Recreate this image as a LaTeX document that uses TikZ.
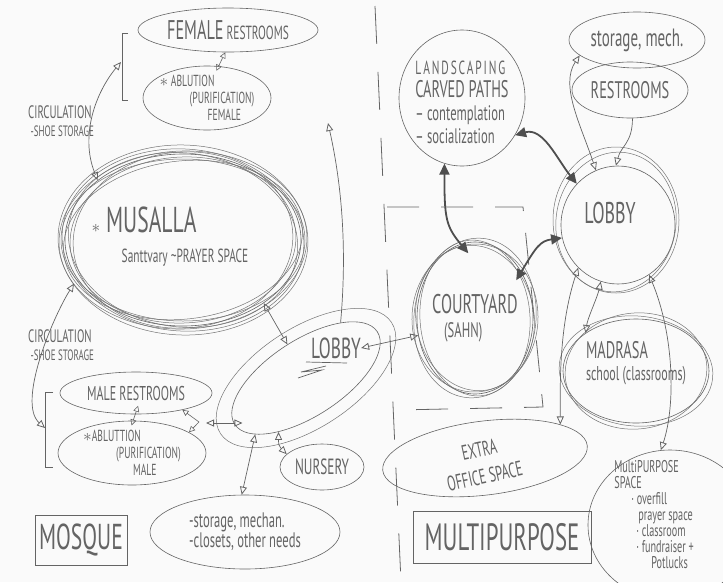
\documentclass[tikz,border=0pt]{standalone}
\usepackage{fontspec}
\newfontfamily\hand{PT Sans}[FakeStretch=0.6]
\usetikzlibrary{shapes.geometric,arrows.meta}

\definecolor{ink}{RGB}{100,100,100}
\definecolor{inkdark}{RGB}{78,78,78}
\definecolor{paper}{RGB}{250,250,250}

\tikzset{
  fs/.style={font=\hand\fontsize{#1}{#1}\selectfont, text=ink, inner sep=0pt},
  room/.style={draw=ink, ellipse, line width=0.6pt, inner sep=0pt},
  ring/.style={draw=ink!90, line width=0.5pt},
  box/.style={draw=ink, line width=0.8pt, inner sep=0pt},
  hd/.tip={Triangle[open, length=8pt, width=7pt, line width=0.8pt]},
  hdsmall/.tip={Triangle[open, length=6pt, width=6pt, line width=0.6pt]},
  hdbig/.tip={Triangle[length=11pt, width=10pt]},
  link/.style={draw=ink, line width=0.7pt, hd-hd},
  onelink/.style={draw=ink, line width=0.7pt, -hd},
  minilink/.style={draw=ink, line width=0.6pt, hdsmall-hdsmall},
  heavy/.style={draw=inkdark, line width=1.8pt, hdbig-hdbig},
}

\begin{document}
\begin{tikzpicture}[x=1pt,y=-1pt]
  \clip (0,0) rectangle (723,582);
  \fill[paper] (0,0) rectangle (723,582);
  % split between the two buildings
  \draw[ink, line width=0.8pt, dash pattern=on 38pt off 28pt] (375,6) -- (401,582);
  \draw[ink, line width=0.8pt, dash pattern=on 32pt off 22pt] (387,207) -- (523,207) -- (543,407) -- (397,410);

  %% mosque
  \node[room, minimum width=180, minimum height=44,
        label={[fs=19]center:{{\fontsize{27}{27}\selectfont FEMALE} RESTROOMS}}] (fres) at (228,30) {};
  \node[room, minimum width=128, minimum height=64,
        label={[font=\hand\fontsize{16}{17}\selectfont, text=ink, inner sep=0pt, align=left]center:{$\ast$ ABLUTION\\\hspace*{30pt}(PURIFICATION)\\\hspace*{48pt}FEMALE}}] (fabl) at (207,98) {};
  \draw[ink, line width=0.7pt] (128,33) -- (122,33) -- (122,100) -- (128,100);
  \coordinate (fbrk) at (121,62);
  \node[font=\hand\fontsize{18}{18}\selectfont, text=ink, inner sep=0pt, align=left, anchor=west] (circa) at (28,121)
    {CIRCULATION\\{\fontsize{15}{18}\selectfont\ -SHOE STORAGE}};

  \node[room, minimum width=236, minimum height=172] (musalla) at (183,240) {};
  \foreach \a/\dw/\dh in {-4/3/5, 3/-5/-3, 7/2/-7, -2/7/9, 5/-8/2, 0/4/-5, -7/-3/1, 2/6/3}
    \draw[ring, rotate around={\a:(musalla.center)}] (musalla.center) ellipse [x radius=118+\dw, y radius=86+\dh];
  \node[fs=36, align=left] (musallatxt) at (170,237)
    {{\fontsize{18}{18}\selectfont$\ast$} MUSALLA\\[-6pt]\hspace*{30pt}{\fontsize{19}{19}\selectfont Santtvary \textasciitilde PRAYER SPACE}};

  \node[room, minimum width=170, minimum height=76, rotate=33] (llobby) at (306,378) {};
  \draw[ring, rotate around={33:(llobby.center)}] (llobby.center) ellipse [x radius=102, y radius=50];
  \node[fs=29] (llobbytxt) at (336,348) {LOBBY};
  \draw[ink, line width=0.7pt] (306,362) -- (347,363);
  \draw[ink, line width=0.7pt] (298,378) -- (322,370) -- (301,372) -- (326,366);

  \node[room, minimum width=152, minimum height=42, label={[fs=20]center:MALE RESTROOMS}] (mres) at (136,393) {};
  \node[room, minimum width=148, minimum height=64,
        label={[font=\hand\fontsize{16}{17}\selectfont, text=ink, inner sep=0pt, align=left]center:{$\ast$ABLUTTION\\\hspace*{33pt}(PURIFICATION)\\\hspace*{50pt}MALE}}] (mabl) at (132,453) {};
  \draw[ink, line width=0.7pt] (53,392) -- (45,392) -- (45,467) -- (53,467);
  \coordinate (mbrk) at (45,428);
  \node[font=\hand\fontsize{18}{18}\selectfont, text=ink, inner sep=0pt, align=left, anchor=west] (circb) at (28,345)
    {CIRCULATION\\{\fontsize{15}{18}\selectfont\ -SHOE STORAGE}};
  \coordinate (mjoin) at (199,422);
  \coordinate (mjoin2) at (206,423);
  \node[room, minimum width=84, minimum height=46, label={[fs=22]center:NURSERY}] (nursery) at (322,467) {};
  \node[room, minimum width=190, minimum height=74,
        label={[font=\hand\fontsize{21}{18}\selectfont, text=ink, inner sep=0pt, align=left]center:{-storage, mechan.\\-closets, other needs}}] (lstor) at (245,532) {};
  \node[box, minimum width=92, minimum height=50, fs=36] (mosque) at (81,540) {MOSQUE};

  %% multipurpose
  \node[room, minimum width=126, minimum height=136,
        label={[font=\hand\fontsize{21}{23}\selectfont, text=ink, inner sep=0pt, align=left, yshift=-4pt]center:{{\addfontfeature{LetterSpace=10}\fontsize{19}{23}\selectfont LANDSCAPING}\\{\fontsize{24}{23}\selectfont CARVED PATHS}\\\textendash\ contemplation\\\textendash\ socialization}}] (land) at (462,98) {};
  \node[room, minimum width=136, minimum height=56, label={[fs=25]center:{storage, mech.}}] (smech) at (637,40) {};
  \node[room, minimum width=116, minimum height=56, label={[fs=24]center:RESTROOMS}] (rrest) at (630,90) {};
  \node[room, minimum width=114, minimum height=118, label={[fs=30, xshift=-8pt, yshift=12pt]center:LOBBY}] (rlobby) at (618,225) {};
  \draw[ring] (616,220) ellipse [x radius=63, y radius=73];
  \draw[ring, rotate around={-8:(616,222)}] (616,222) ellipse [x radius=60, y radius=70];

  \node[room, minimum width=116, minimum height=152,
        label={[font=\hand\fontsize{27}{24}\selectfont, text=ink, inner sep=0pt, align=left]center:{COURTYARD\\\hspace*{12pt}{\fontsize{21}{21}\selectfont(SAHN)}}}] (court) at (475,318) {};
  \foreach \a/\dw/\dh in {-6/3/4, 4/-3/2, 9/1/-3, -2/5/-2}
    \draw[ring, rotate around={\a:(court.center)}] (court.center) ellipse [x radius=58+\dw, y radius=76+\dh];

  \node[room, minimum width=146, minimum height=104,
        label={[font=\hand\fontsize{24}{22}\selectfont, text=ink, inner sep=0pt, align=left, yshift=8pt]center:{MADRASA\\{\fontsize{20}{20}\selectfont school (classrooms)}}}] (madrasa) at (636,371) {};
  \foreach \a/\dw/\dh in {-5/4/3, 6/-2/6}
    \draw[ring, rotate around={\a:(madrasa.center)}] (madrasa.center) ellipse [x radius=73+\dw, y radius=52+\dh];

  \node[room, minimum width=206, minimum height=74, rotate=7] (office) at (485,458) {};
  \node[font=\hand\fontsize{21}{27}\selectfont, text=ink, inner sep=0pt, rotate=12, align=center] (officetxt) at (482,463) {EXTRA\\OFFICE SPACE};
  \node[box, minimum width=178, minimum height=52, fs=38] (mpbox) at (502,537) {MULTIPURPOSE};
  \node[room, minimum width=164, minimum height=150,
        label={[font=\hand\fontsize{17}{16}\selectfont, text=ink, inner sep=0pt, align=left, xshift=-16pt, yshift=10pt]center:{MultiPURPOSE\\SPACE\\\hspace*{17pt}· overfill\\\hspace*{24pt}prayer space\\\hspace*{22pt}· classroom\\\hspace*{22pt}· fundraiser +\\\hspace*{37pt}Potlucks}}] (mpspace) at (670,525) {};

  % connections, mosque
  \draw[minilink, shorten >=-5pt] (fres.-97) -- (fabl.70);
  \draw[link] (musalla.145) .. controls +(-18,-45) and +(-25,30) .. (fbrk);
  \draw[link, shorten >=6pt] (mbrk) .. controls +(-28,-25) and +(-25,40) .. (musalla.200);
  \draw[link] (musalla.-38) -- (llobby.86);
  \coordinate (lobbyup) at (328,123);
  \draw[onelink] (llobby.25) .. controls +(8,-90) and +(10,45) .. (lobbyup);
  \draw[minilink, shorten <=-9pt, shorten >=-5pt] (mres.-92) -- (mabl.88);
  \draw[minilink] (mres.-20) -- (mjoin) -- (mabl.20);
  \draw[link, shorten >=-8pt] (mjoin2) -- (mjoin2 -| llobby.180);
  \draw[link] (nursery.160) .. controls +(-8,-8) and +(0,12) .. (llobby.210);
  \draw[link] (lstor.95) -- (llobby.195);
  \draw[link] (llobbytxt.east) -- (court.197);

  % connections, multipurpose
  \draw[heavy, shorten >=-12pt] (land.-105) .. controls +(0,55) and +(-15,-18) .. (court.101);
  \draw[heavy] (land.-35) .. controls +(28,-8) and +(-20,-25) .. (rlobby.135);
  \draw[heavy, shorten <=-10pt] (court.45) .. controls +(15,-25) and +(-22,3) .. (rlobby.193);
  \draw[link] (smech.195) .. controls +(-20,30) and +(-15,-45) .. (rlobby.112);
  \draw[onelink] (rrest.-85) .. controls +(0,25) and +(5,-20) .. (rlobby.92);
  \draw[link] (rlobby.227) .. controls +(-20,60) and +(0,-35) .. (office.17);
  \draw[link] (rlobby.253) .. controls +(-3,15) and +(2,-15) .. (madrasa.143);
  \draw[link] (rlobby.-58) .. controls +(25,60) and +(15,-45) .. (mpspace.97);
\end{tikzpicture}
\end{document}
